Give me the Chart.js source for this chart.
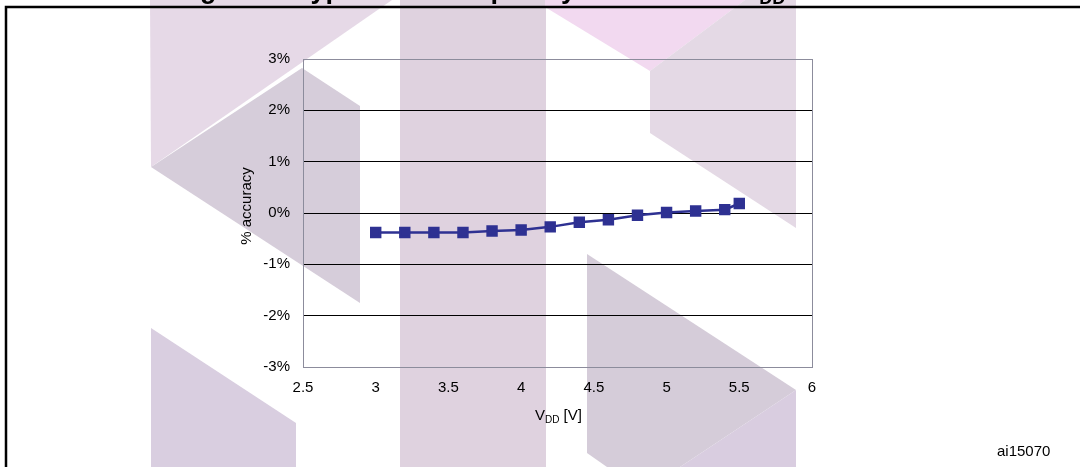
<!DOCTYPE html>
<html>
<head>
<meta charset="utf-8">
<script src="https://cdn.jsdelivr.net/npm/chart.js@4.4.0/dist/chart.umd.min.js"></script>
<style>
  html, body { margin: 0; padding: 0; background: #fff; }
  #wrap { width: 1080px; height: 467px; position: relative; }
</style>
</head>
<body>
<div id="wrap"><canvas id="chart" width="1080" height="467"></canvas></div>
<script>
// supply voltage (V) and measured accuracy (%)
const vddValues = [3, 3.2, 3.4, 3.6, 3.8, 4, 4.2, 4.4, 4.6, 4.8, 5, 5.2, 5.4, 5.5];
const accuracyValues = [-0.38, -0.38, -0.38, -0.38, -0.35, -0.33, -0.27, -0.18, -0.13, -0.045, 0.01, 0.04, 0.065, 0.185];
const yTicks = [-3, -2, -1, 0, 1, 2, 3];
const xTicks = [2.5, 3, 3.5, 4, 4.5, 5, 5.5, 6];

const FONT = "'Liberation Sans', Arial, sans-serif";

// background watermark polygons
const watermark = [
  { color: '#dfd2df', pts: [[400, 0], [546, 0], [546, 467], [400, 467]] },
  { color: '#e6d9e7', pts: [[150, 0], [392, 0], [151, 167]] },
  { color: '#d6cdda', pts: [[151, 167], [302, 68], [360, 106], [360, 303]] },
  { color: '#d9cee0', pts: [[151, 328], [296, 423], [296, 467], [151, 467]] },
  { color: '#f2d9f0', pts: [[545, 0], [745, 0], [650, 71], [545, 7]] },
  { color: '#e4d9e5', pts: [[745, 0], [796, 0], [796, 228], [650, 133], [650, 71]] },
  { color: '#d5ccd9', pts: [[587, 254], [796, 390], [680, 467], [607, 467], [587, 453]] },
  { color: '#d9cde0', pts: [[796, 390], [796, 467], [680, 467]] }
];

const decor = {
  id: 'decor',
  beforeDraw(chart) {
    const ctx = chart.ctx;
    ctx.save();
    ctx.fillStyle = '#fff';
    ctx.fillRect(0, 0, chart.width, chart.height);
    watermark.forEach(w => {
      ctx.fillStyle = w.color;
      ctx.beginPath();
      w.pts.forEach((p, i) => i ? ctx.lineTo(p[0], p[1]) : ctx.moveTo(p[0], p[1]));
      ctx.closePath();
      ctx.fill();
    });
    ctx.restore();
  },
  beforeDatasetsDraw(chart) {
    const { ctx, chartArea: a } = chart;
    ctx.save();
    ctx.strokeStyle = '#8c8c9c';
    ctx.lineWidth = 1;
    ctx.strokeRect(a.left + 0.5, a.top + 0.5, a.right - a.left, a.bottom - a.top);
    ctx.restore();
  },
  afterDraw(chart) {
    const ctx = chart.ctx;
    ctx.save();
    // figure frame
    ctx.strokeStyle = '#000';
    ctx.lineWidth = 2.5;
    ctx.beginPath();
    ctx.moveTo(1082, 7);
    ctx.lineTo(6, 7);
    ctx.lineTo(6, 470);
    ctx.stroke();

    // figure title, mostly cut off at the top
    ctx.fillStyle = '#000';
    ctx.textBaseline = 'alphabetic';
    ctx.font = 'bold 27px ' + FONT;
    const main = 'Figure 9. Typical HSI frequency variation vs V';
    ctx.fillText(main, 176, -2.5);
    const w = ctx.measureText(main).width;
    ctx.font = 'bold 18px ' + FONT;
    ctx.fillText('DD', 176 + w, 3.5);

    // y axis title
    ctx.font = '15px ' + FONT;
    ctx.textAlign = 'center';
    ctx.textBaseline = 'middle';
    ctx.save();
    ctx.translate(247, 206);
    ctx.rotate(-Math.PI / 2);
    ctx.fillText('% accuracy', 0, 0);
    ctx.restore();

    // x axis title with subscript
    ctx.textAlign = 'left';
    ctx.textBaseline = 'alphabetic';
    ctx.font = '15px ' + FONT;
    ctx.fillText('V', 535, 420);
    const vw = ctx.measureText('V').width;
    ctx.font = '10px ' + FONT;
    ctx.fillText('DD', 535 + vw, 423);
    const dw = ctx.measureText('DD').width;
    ctx.font = '15px ' + FONT;
    ctx.fillText(' [V]', 535 + vw + dw, 420);

    // figure id
    ctx.fillText('ai15070', 997, 456);
    ctx.restore();
  }
};

new Chart(document.getElementById('chart'), {
  type: 'line',
  data: {
    datasets: [{
      data: vddValues.map((v, i) => ({ x: v, y: accuracyValues[i] })),
      borderColor: '#2e3192',
      backgroundColor: '#2e3192',
      borderWidth: 2.5,
      pointStyle: 'rect',
      pointRadius: 6.3,
      pointHoverRadius: 6.3,
      tension: 0,
      fill: false
    }]
  },
  options: {
    responsive: false,
    animation: false,
    devicePixelRatio: 1,
    layout: { padding: { left: 0, right: 268, top: 59, bottom: 0 } },
    plugins: { legend: { display: false }, tooltip: { enabled: false } },
    scales: {
      x: {
        type: 'linear',
        min: 2.5,
        max: 6,
        afterBuildTicks: s => { s.ticks = xTicks.map(v => ({ value: v })); },
        afterFit: s => { s.height = 100; },
        grid: { display: false, drawTicks: false },
        border: { display: false },
        ticks: {
          padding: 12,
          color: '#000',
          font: { family: FONT, size: 15 },
          maxRotation: 0,
          callback: v => String(v)
        }
      },
      y: {
        min: -3,
        max: 3,
        afterBuildTicks: s => { s.ticks = yTicks.map(v => ({ value: v })); },
        afterFit: s => { s.width = 303; },
        grid: {
          drawTicks: false,
          color: c => (c.tick && Math.abs(c.tick.value) === 3) ? 'rgba(0,0,0,0)' : '#000',
          lineWidth: 1
        },
        border: { display: false },
        ticks: {
          padding: 13,
          color: '#000',
          font: { family: FONT, size: 15 },
          callback: v => v + '%'
        }
      }
    }
  },
  plugins: [decor]
});
</script>
</body>
</html>
